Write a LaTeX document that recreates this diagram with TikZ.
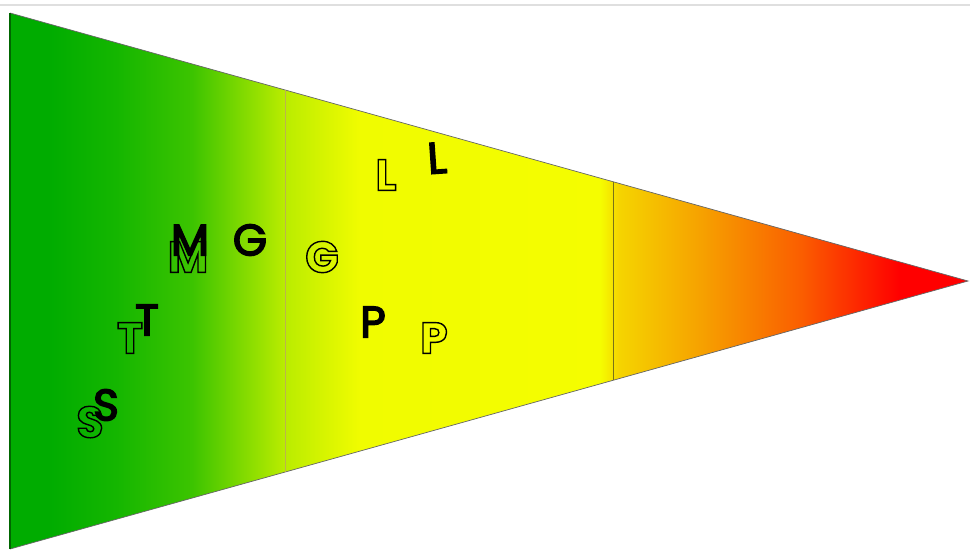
\documentclass[tikz,border=0pt]{standalone}
\usepackage{fontspec}
\setmainfont{Poppins}
\usetikzlibrary{calc}

% colours of the pennant, left to right
\definecolor{pg1}{RGB}{0,172,0}
\definecolor{pg2}{RGB}{20,182,0}
\definecolor{pg3}{RGB}{60,196,0}
\definecolor{pg4}{RGB}{185,236,0}
\definecolor{pg5}{RGB}{240,252,0}
\definecolor{pg6}{RGB}{245,253,0}
\definecolor{pg7}{RGB}{245,212,0}
\definecolor{pg8}{RGB}{246,162,0}
\definecolor{pg9}{RGB}{250,95,0}
\definecolor{pg10}{RGB}{255,0,0}

\pgfdeclarehorizontalshading{pennant}{100bp}{
  color(0bp)=(pg1); color(27bp)=(pg1); color(30.5bp)=(pg2);
  color(34.5bp)=(pg3); color(39.3bp)=(pg4); color(43.2bp)=(pg5);
  color(55.8bp)=(pg6); color(56.8bp)=(pg7); color(61bp)=(pg8);
  color(66.2bp)=(pg9); color(71.4bp)=(pg10); color(100bp)=(pg10)}

% stroked letter, fill left open
\newcommand{\hollowtext}[1]{\special{pdf:literal direct 1 Tr 0.8 w}#1\special{pdf:literal direct 0 Tr}}
% filled and stroked, a bit heavier
\newcommand{\inktext}[1]{\special{pdf:literal direct 2 Tr 0.9 w}#1\special{pdf:literal direct 0 Tr}}

\begin{document}
\begin{tikzpicture}[
		x=0.02cm, y=-0.02cm,
		ink/.style={font=\fontsize{25}{28}\selectfont, text=black, inner sep=0pt},
		hollow/.style={font=\fontsize{25}{28}\selectfont\bfseries, text=black, inner sep=0pt},
		divider/.style={line width=0.5pt, draw=#1}
		]
		
		\useasboundingbox (0,0) rectangle (970,549);
		
		% ==========================================
		% THIN RULE ALONG THE TOP
		% ==========================================
		\draw[gray!25, line width=0.6pt] (0,5) -- (970,5);
		
		% ==========================================
		% PENNANT
		% ==========================================
		\coordinate (TopL) at (10,13);
		\coordinate (BotL) at (10,549);
		\coordinate (Tip) at (968,281);
		
		\shade[shading=pennant] (TopL) -- (Tip) -- (BotL) -- cycle;
		\draw[black!60, line width=0.4pt] (TopL) -- (Tip) -- (BotL);
		\draw[green!40!black, line width=1.2pt] (TopL) -- (BotL);
		
		% dividers: cut the sides at x = 285 and x = 613
		\foreach \px/\c in {285/olive!60, 613/olive!80!black} {
			\draw[divider=\c] ($(TopL)!{(\px-10)/958}!(Tip)$) -- ($(BotL)!{(\px-10)/958}!(Tip)$);
		}
		
		% ==========================================
		% LETTERS (hollow first, ink on top)
		% ==========================================
		\node[hollow] (holS) at (90,422) {\hollowtext{S}};
		\node[ink] (inkS) at (106,405) {\inktext{S}};
		
		\node[hollow] (holT) at (130,338) {\hollowtext{T}};
		\node[ink] (inkT) at (147,320) {\inktext{T}};
		
		\node[hollow] (holM) at (188,257) {\hollowtext{M}};
		\node[ink] (inkM) at (190,240) {\inktext{M}};
		
		\node[ink] (inkG) at (250,240) {\inktext{G}};
		\node[hollow] (holG) at (322,257) {\hollowtext{G}};
		
		\node[hollow] (holL) at (386,175) {\hollowtext{L}};
		\node[ink, rotate=4] (inkL) at (437,158) {\inktext{L}};
		
		\node[ink] (inkP) at (373,322) {\inktext{P}};
		\node[hollow] (holP) at (434,338) {\hollowtext{P}};
		
	\end{tikzpicture}
\end{document}
